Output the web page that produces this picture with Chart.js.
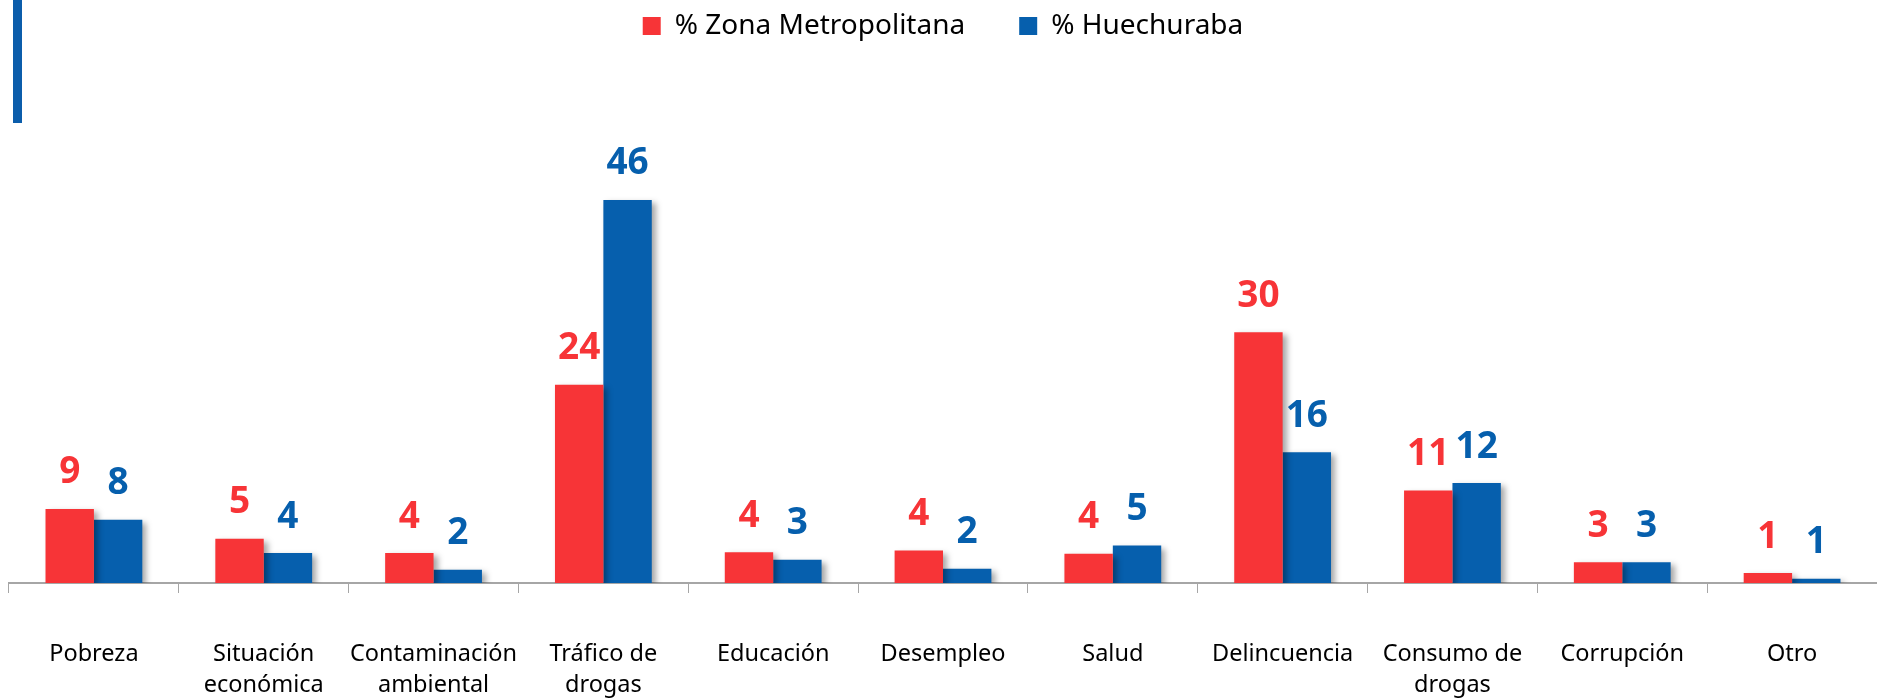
<!DOCTYPE html>
<html lang="es">
<head>
<meta charset="utf-8">
<title>Problemas principales</title>
<script src="https://cdn.jsdelivr.net/npm/chart.js@4.4.1/dist/chart.umd.min.js"></script>
<style>
    html, body { margin: 0; padding: 0; background: #fff; }
    #wrap { position: relative; width: 1877px; height: 699px; }
    #barra { position: absolute; left: 13px; top: 0; width: 9px; height: 123px; background: #0B5DAB; }
</style>
</head>
<body>
<div id="wrap">
    <canvas id="grafico" width="1877" height="699" style="width:1877px;height:699px"></canvas>
    <div id="barra"></div>
</div>
<script>
// categorías (eje x)
const categorias = [
    'Pobreza',
    ['Situación', 'económica'],
    ['Contaminación', 'ambiental'],
    ['Tráfico de', 'drogas'],
    'Educación',
    'Desempleo',
    'Salud',
    'Delincuencia',
    ['Consumo de', 'drogas'],
    'Corrupción',
    'Otro'
];

// series (%)
const zonaMetropolitana = [8.9, 5.3, 3.6, 23.8, 3.7, 3.9, 3.5, 30.1, 11.1, 2.5, 1.2];
const huechuraba = [7.6, 3.6, 1.6, 46, 2.8, 1.7, 4.5, 15.7, 12.0, 2.5, 0.5];

const nombresSeries = ['% Zona Metropolitana', '% Huechuraba'];
const colores = ['#F73437', '#065FAD'];

// sombra de las barras
const sombraBarras = {
    id: 'sombraBarras',
    beforeDatasetDraw(chart) {
        const ctx = chart.ctx;
        ctx.save();
        ctx.shadowColor = 'rgba(0, 0, 0, 0.35)';
        ctx.shadowBlur = 6;
        ctx.shadowOffsetX = 4;
        ctx.shadowOffsetY = 3;
    },
    afterDatasetDraw(chart) {
        chart.ctx.restore();
    }
};

// etiquetas de valor sobre cada barra
const etiquetasValor = {
    id: 'etiquetasValor',
    afterDatasetsDraw(chart) {
        const ctx = chart.ctx;
        ctx.save();
        ctx.font = 'bold 37px "Noto Sans", sans-serif';
        ctx.textAlign = 'center';
        ctx.textBaseline = 'middle';
        chart.data.datasets.forEach((ds, i) => {
            const meta = chart.getDatasetMeta(i);
            ctx.fillStyle = ds.backgroundColor;
            meta.data.forEach((bar, j) => {
                ctx.fillText(Math.round(ds.data[j]), bar.x, bar.y - 36);
            });
        });
        ctx.restore();
    }
};

new Chart(document.getElementById('grafico'), {
    type: 'bar',
    data: {
        labels: categorias,
        datasets: [
            { label: nombresSeries[0], data: zonaMetropolitana, backgroundColor: colores[0] },
            { label: nombresSeries[1], data: huechuraba, backgroundColor: colores[1] }
        ]
    },
    options: {
        responsive: false,
        animation: false,
        layout: { padding: { left: 9, right: 0, top: 0, bottom: 0 } },
        datasets: {
            bar: { categoryPercentage: 0.57, barPercentage: 1.0 }
        },
        plugins: {
            tooltip: { enabled: false },
            legend: {
                position: 'top',
                labels: {
                    boxWidth: 18,
                    boxHeight: 18,
                    padding: 12,
                    color: '#000',
                    font: { family: '"Noto Sans", sans-serif', size: 28 },
                    generateLabels(chart) {
                        const base = Chart.defaults.plugins.legend.labels.generateLabels(chart);
                        base.forEach((l, i) => {
                            // separación extra solo después del primer elemento
                            if (i === 0) l.text = l.text + '\u2003\u2002';
                            l.lineWidth = 0;
                        });
                        return base;
                    }
                }
            }
        },
        scales: {
            x: {
                afterFit(scale) { scale.height = 116; },
                grid: {
                    display: true,
                    drawOnChartArea: false,
                    drawTicks: true,
                    tickLength: 10,
                    color: '#A6A6A6'
                },
                border: { display: true, color: '#A6A6A6', width: 2 },
                ticks: {
                    color: '#000',
                    padding: 46,
                    maxRotation: 0,
                    autoSkip: false,
                    font: { family: '"Noto Sans", sans-serif', size: 23.5, lineHeight: 1.32 }
                }
            },
            y: {
                display: false,
                min: 0,
                max: 64
            }
        }
    },
    plugins: [sombraBarras, etiquetasValor]
});
</script>
</body>
</html>
